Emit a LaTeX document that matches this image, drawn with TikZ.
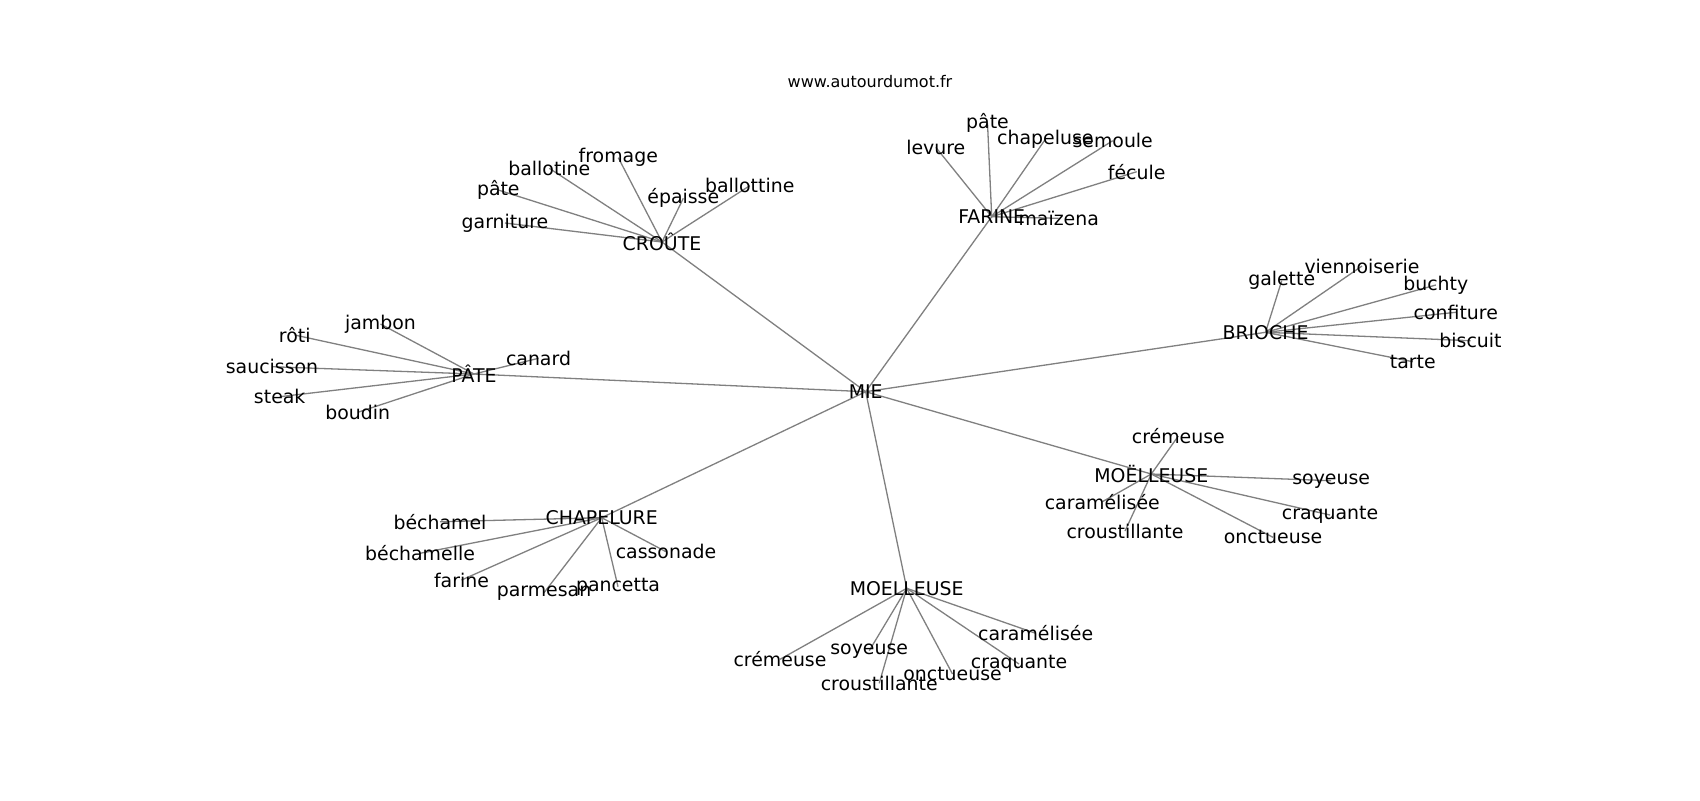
\documentclass[tikz,border=0pt]{standalone}
\usepackage{fontspec}
\setmainfont{DejaVu Sans}
\usetikzlibrary{backgrounds}
\begin{document}
\begin{tikzpicture}[x=0.5pt,y=-0.5pt,
  lbl/.style={inner sep=0pt,font=\fontsize{9.45}{11}\selectfont,text=black},
  ttl/.style={inner sep=0pt,font=\fontsize{8}{10}\selectfont,text=black},
  link/.style={draw=black!50,line width=0.65pt}]
\useasboundingbox (0,0) rectangle (1700,800);
\node[ttl] (title) at (870,82) {www.autourdumot.fr};
% hubs
\node[lbl] (mie) at (865.7,391.7) {MIE};
\node[lbl] (croute) at (662,242) {CROÛTE};
\node[lbl] (farine) at (991.7,216.7) {FARINE};
\node[lbl] (brioche) at (1265.5,332.3) {BRIOCHE};
\node[lbl] (pate) at (474,374) {PÂTE};
\node[lbl] (chapelure) at (601.7,517.7) {CHAPELURE};
\node[lbl] (moelleuse) at (906.7,588.3) {MOELLEUSE};
\node[lbl] (moelleuse2) at (1151.3,474) {MOËLLEUSE};
% croute leaves
\node[lbl] (c1) at (505,223) {garniture};
\node[lbl] (c2) at (498.3,190) {pâte};
\node[lbl] (c3) at (549.3,168.3) {ballotine};
\node[lbl] (c4) at (618.3,157.7) {fromage};
\node[lbl] (c5) at (683.3,198.3) {épaisse};
\node[lbl] (c6) at (749.7,185.7) {ballottine};
% farine leaves
\node[lbl] (f1) at (935.8,147.3) {levure};
\node[lbl] (f2) at (987.5,123.3) {pâte};
\node[lbl] (f3) at (1045.3,139.3) {chapeluse};
\node[lbl] (f4) at (1112.7,140.7) {semoule};
\node[lbl] (f5) at (1136.7,171.7) {fécule};
\node[lbl] (f6) at (1058.7,218.3) {maïzena};
% brioche leaves
\node[lbl] (b1) at (1281.7,280.7) {galette};
\node[lbl] (b2) at (1362,266) {viennoiserie};
\node[lbl] (b3) at (1435.8,285) {buchty};
\node[lbl] (b4) at (1455.8,312.3) {confiture};
\node[lbl] (b5) at (1470.5,340.7) {biscuit};
\node[lbl] (b6) at (1412.8,361.7) {tarte};
% pate leaves
\node[lbl] (p1) at (380.5,324) {jambon};
\node[lbl] (p2) at (294.7,335) {rôti};
\node[lbl] (p3) at (272,366.7) {saucisson};
\node[lbl] (p4) at (279.7,396.7) {steak};
\node[lbl] (p5) at (357.8,412.3) {boudin};
\node[lbl] (p6) at (538.5,358.3) {canard};
% chapelure leaves
\node[lbl] (h1) at (440,521.7) {béchamel};
\node[lbl] (h2) at (420,553.3) {béchamelle};
\node[lbl] (h3) at (461.5,580) {farine};
\node[lbl] (h4) at (544,592.7) {parmesan};
\node[lbl] (h5) at (618,586.7) {pancetta};
\node[lbl] (h6) at (666,551.7) {cassonade};
% moelleuse leaves
\node[lbl] (m1) at (780,659.3) {crémeuse};
\node[lbl] (m2) at (869.2,650.7) {soyeuse};
\node[lbl] (m3) at (879.2,683.3) {croustillante};
\node[lbl] (m4) at (952.5,674) {onctueuse};
\node[lbl] (m5) at (1019,664) {craquante};
\node[lbl] (m6) at (1035.7,633.3) {caramélisée};
% moelleuse2 leaves
\node[lbl] (n1) at (1178.3,436) {crémeuse};
\node[lbl] (n2) at (1331.2,480.7) {soyeuse};
\node[lbl] (n3) at (1330,515) {craquante};
\node[lbl] (n4) at (1273,537.3) {onctueuse};
\node[lbl] (n5) at (1102.3,501.7) {caramélisée};
\node[lbl] (n6) at (1125,531) {croustillante};
\begin{scope}[on background layer]
\fill[white] (0,0) rectangle (1700,800);
\foreach \h in {croute,farine,brioche,pate,chapelure,moelleuse,moelleuse2}
  \draw[link] (mie.center) -- (\h.center);
\foreach \l in {c1,c2,c3,c4,c5,c6} \draw[link] (croute.center) -- (\l.center);
\foreach \l in {f1,f2,f3,f4,f5,f6} \draw[link] (farine.center) -- (\l.center);
\foreach \l in {b1,b2,b3,b4,b5,b6} \draw[link] (brioche.center) -- (\l.center);
\foreach \l in {p1,p2,p3,p4,p5,p6} \draw[link] (pate.center) -- (\l.center);
\foreach \l in {h1,h2,h3,h4,h5,h6} \draw[link] (chapelure.center) -- (\l.center);
\foreach \l in {m1,m2,m3,m4,m5,m6} \draw[link] (moelleuse.center) -- (\l.center);
\foreach \l in {n1,n2,n3,n4,n5,n6} \draw[link] (moelleuse2.center) -- (\l.center);
\end{scope}
\end{tikzpicture}
\end{document}
